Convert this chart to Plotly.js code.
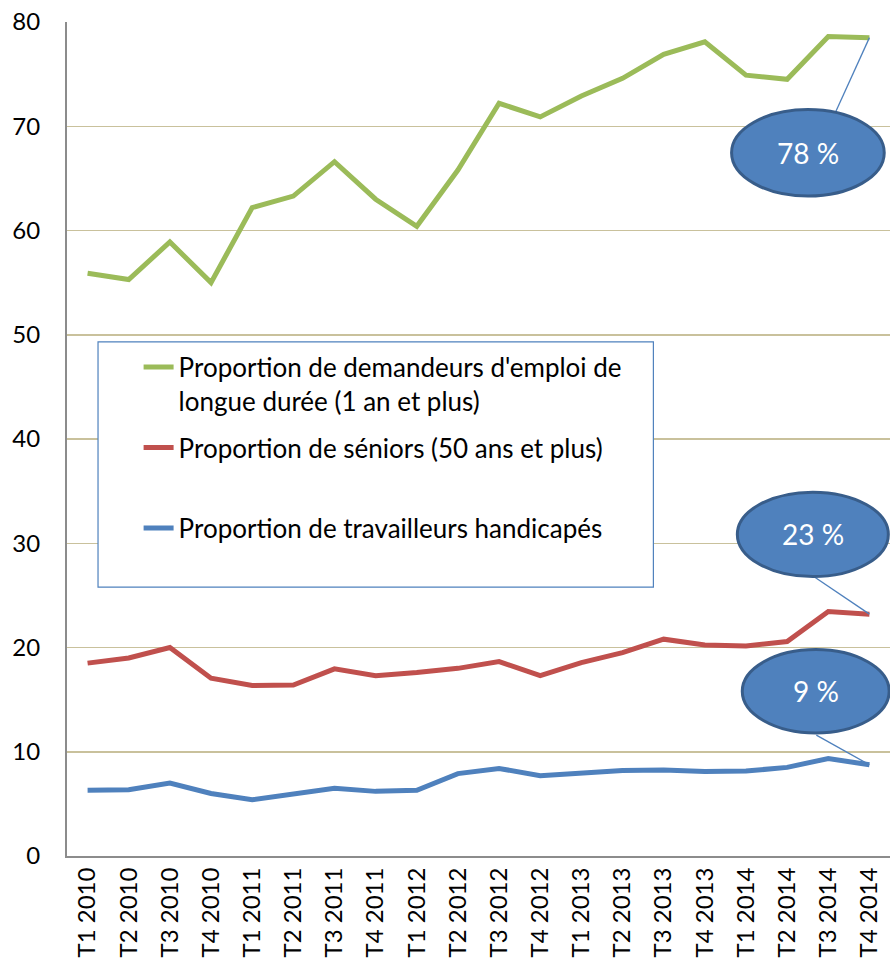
<!DOCTYPE html>
<html>
<head>
<meta charset="utf-8">
<script src="https://cdn.plot.ly/plotly-3.0.1.min.js"></script>
<style>html,body{margin:0;padding:0;background:#fff;}#chart{width:890px;height:960px;}</style>
</head>
<body>
<div id="chart"></div>
<script>
const categories = ["T1 2010","T2 2010","T3 2010","T4 2010","T1 2011","T2 2011","T3 2011","T4 2011","T1 2012","T2 2012","T3 2012","T4 2012","T1 2013","T2 2013","T3 2013","T4 2013","T1 2014","T2 2014","T3 2014","T4 2014"];
const longueDuree = [55.9,55.3,58.9,55.0,62.2,63.3,66.6,63.0,60.4,65.8,72.2,70.9,72.9,74.6,76.9,78.1,74.9,74.5,78.6,78.5];
const seniors = [18.5,19.0,20.0,17.05,16.35,16.4,17.95,17.3,17.6,18.0,18.65,17.3,18.55,19.5,20.8,20.25,20.15,20.57,23.45,23.2];
const handicapes = [6.3,6.35,7.0,6.0,5.4,6.0,6.5,6.2,6.3,7.9,8.4,7.7,8.0,8.2,8.25,8.1,8.15,8.5,9.35,8.75];
const seriesNames = ["Proportion de demandeurs d'emploi de<br>longue durée (1 an et plus)","Proportion de séniors (50 ans et plus)<br> ","Proportion de travailleurs handicapés<br> "];
const seriesColors = ["#9BBB59","#C0504D","#4F81BD"];
const calloutLabels = ["78 %","23 %","9 %"];

const font = "Lato, 'Open Sans', sans-serif";
const allSeries = [longueDuree, seniors, handicapes];
const traces = allSeries.map((s,i)=>({
  x: categories, y: s, type:'scatter', mode:'lines', name: seriesNames[i],
  legendgroup: 'g'+i,
  line:{color: seriesColors[i], width:5}
}));

const last = categories.length - 1;
// callout geometry (ellipse in data space: x index range, y value range; leader start)
const callouts = [
  {x0:15.65,x1:19.36,y0:63.3,y1:71.6,lx:18.17,ly:71.3},
  {x0:15.79,x1:19.46,y0:26.8,y1:34.9,lx:17.61,ly:26.9},
  {x0:15.91,x1:19.48,y0:11.8,y1:19.8,lx:17.71,ly:11.6}
];
const shapes = [
  {type:'rect', xref:'paper', yref:'paper', x0:0.0377, x1:0.7125, y0:0.3225, y1:0.6165,
   line:{color:'#4F81BD', width:1.2}, fillcolor:'#ffffff', layer:'above'}
];
const annotations = [];
callouts.forEach((c,i)=>{
  shapes.push({type:'line', xref:'x', yref:'y', x0:c.lx, y0:c.ly, x1:last, y1:allSeries[i][last],
    line:{color:'#4F81BD', width:1.3}, layer:'above'});
  shapes.push({type:'circle', xref:'x', yref:'y', x0:c.x0, x1:c.x1, y0:c.y0, y1:c.y1,
    fillcolor:'#4F81BD', line:{color:'#385D8A', width:3}, layer:'above'});
  annotations.push({xref:'x', yref:'y', x:(c.x0+c.x1)/2, y:(c.y0+c.y1)/2, text:calloutLabels[i],
    showarrow:false, font:{family:font, size:28, color:'#ffffff'}});
});

const layout = {
  width:890, height:960,
  margin:{l:67, r:0, t:22, b:104},
  paper_bgcolor:'#ffffff', plot_bgcolor:'#ffffff',
  showlegend:true,
  legend:{x:0.087, y:0.6145, xanchor:'left', yanchor:'top', bgcolor:'rgba(0,0,0,0)', borderwidth:0,
    font:{family:font, size:26, color:'#000'}, traceorder:'grouped', tracegroupgap:10, valign:'top'},
  xaxis:{type:'category', range:[-0.5,19.5], tickangle:-90, showgrid:false, zeroline:false,
    showline:true, linecolor:'#8C8C8C', linewidth:2, ticks:'',
    tickfont:{family:font, size:24, color:'#000'}, fixedrange:true},
  yaxis:{range:[0,80], dtick:10, showgrid:true, gridcolor:'#C9C19C', gridwidth:1.5, zeroline:false,
    showline:true, linecolor:'#8C8C8C', linewidth:2, ticks:'', ticklabelstandoff:20,
    tickfont:{family:font, size:24, color:'#000'}, fixedrange:true},
  shapes: shapes,
  annotations: annotations
};
Plotly.newPlot('chart', traces, layout, {displayModeBar:false, staticPlot:true});
</script>
</body>
</html>
